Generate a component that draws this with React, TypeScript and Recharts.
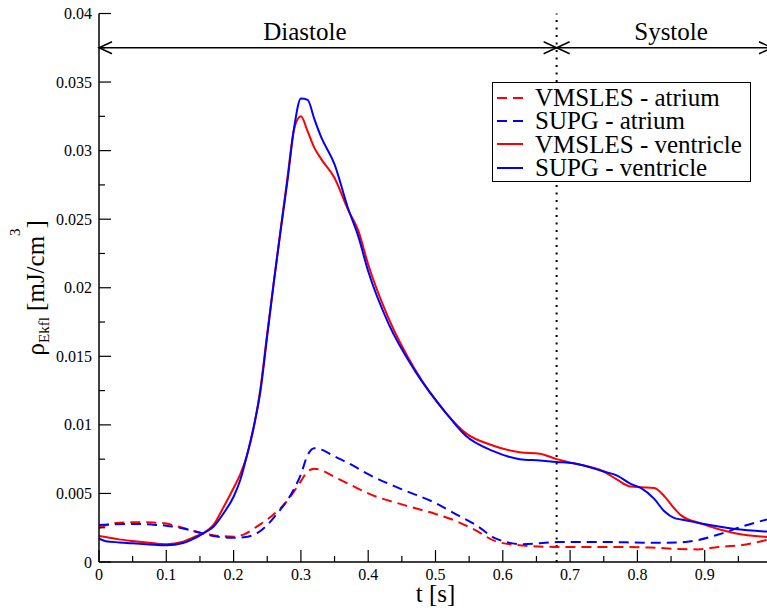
import { LineChart, Line, XAxis, YAxis, ReferenceLine, ReferenceDot, Legend } from 'recharts';

const FONT = '"Liberation Serif", "Times New Roman", Times, serif';
const RED = '#ff0000';
const BLUE = '#0000ff';
const INK = '#000000';

// axis ticks (major + minor, alternating)
const xTicks = [0, 0.05, 0.1, 0.15, 0.2, 0.25, 0.3, 0.35, 0.4, 0.45, 0.5, 0.55, 0.6, 0.65, 0.7, 0.75, 0.8, 0.85, 0.9, 0.95, 1];
const yTicks = [0, 0.0025, 0.005, 0.0075, 0.01, 0.0125, 0.015, 0.0175, 0.02, 0.0225, 0.025, 0.0275, 0.03, 0.0325, 0.035, 0.0375, 0.04];

// series names, in legend order
const seriesNames = ['VMSLES - atrium', 'SUPG - atrium', 'VMSLES - ventricle', 'SUPG - ventricle'];

// ventricle series
const ventricleT = [0, 0.01, 0.03, 0.05, 0.075, 0.1, 0.125, 0.14, 0.155, 0.17, 0.185, 0.2, 0.21, 0.22, 0.23, 0.24, 0.25, 0.26, 0.27, 0.28, 0.29, 0.3, 0.31, 0.32, 0.33, 0.35, 0.37, 0.385, 0.4, 0.43, 0.47, 0.515, 0.545, 0.585, 0.625, 0.655, 0.68, 0.705, 0.75, 0.77, 0.79, 0.805, 0.825, 0.84, 0.855, 0.865, 0.895, 0.945, 1.0];
const vmslesVentricle = [0.0019, 0.00182, 0.00165, 0.00153, 0.0014, 0.0013, 0.00148, 0.0018, 0.0021, 0.0027, 0.004, 0.0054, 0.0064, 0.0078, 0.0098, 0.0127, 0.0167, 0.0205, 0.0243, 0.028, 0.0316, 0.0325, 0.0314, 0.0302, 0.0294, 0.028, 0.0257, 0.0242, 0.0217, 0.0178, 0.014, 0.0109, 0.0094, 0.0085, 0.008, 0.0079, 0.0075, 0.0072, 0.0066, 0.006, 0.0055, 0.00545, 0.0054, 0.0048, 0.0039, 0.0034, 0.0028, 0.0021, 0.0018];
const supgVentricle = [0.0017, 0.00152, 0.00143, 0.00136, 0.00128, 0.00122, 0.00138, 0.00168, 0.0021, 0.00257, 0.00355, 0.00476, 0.006, 0.0078, 0.0099, 0.0125, 0.0165, 0.0205, 0.0242, 0.0278, 0.0317, 0.0338, 0.0337, 0.0323, 0.031, 0.029, 0.0258, 0.0238, 0.0212, 0.0174, 0.0139, 0.0109, 0.0092, 0.0081, 0.0075, 0.0074, 0.0073, 0.0072, 0.0066, 0.0063, 0.0057, 0.0054, 0.0046, 0.0037, 0.0032, 0.0031, 0.0028, 0.0024, 0.0022];

// atrium series
const atriumT = [0, 0.02, 0.05, 0.08, 0.1, 0.125, 0.15, 0.175, 0.2, 0.215, 0.235, 0.25, 0.265, 0.285, 0.3, 0.31, 0.32, 0.33, 0.35, 0.375, 0.4, 0.45, 0.5, 0.53, 0.56, 0.59, 0.63, 0.68, 0.75, 0.82, 0.86, 0.89, 0.92, 0.95, 1.0];
const vmslesAtrium = [0.0025, 0.0028, 0.0029, 0.00288, 0.0028, 0.00248, 0.00214, 0.00192, 0.00185, 0.002, 0.0026, 0.0031, 0.0037, 0.0048, 0.0059, 0.0066, 0.0068, 0.0067, 0.0062, 0.0056, 0.005, 0.0042, 0.0035, 0.003, 0.0023, 0.0015, 0.0012, 0.0011, 0.0011, 0.00105, 0.00095, 0.00092, 0.0011, 0.0012, 0.0017];
const supgAtrium = [0.0027, 0.00275, 0.00278, 0.00272, 0.00265, 0.00245, 0.00214, 0.00185, 0.00177, 0.0018, 0.0021, 0.0027, 0.00355, 0.0049, 0.0064, 0.0078, 0.0083, 0.0082, 0.0077, 0.0071, 0.0064, 0.0053, 0.0043, 0.0035, 0.0027, 0.0017, 0.0013, 0.00145, 0.00146, 0.0014, 0.00142, 0.0016, 0.002, 0.0025, 0.0032];

// diastole / systole annotation
const phaseSplit = 0.68;
const phaseArrowY = 0.0375;
const diastoleLabelT = 0.306;
const systoleLabelT = 0.85;

const zip = (ts: number[], vs: number[]) => ts.map((t, i) => ({ t, v: vs[i] }));

const fmt = (v: number) => String(Number(v.toFixed(4)));
const isMajorX = (v: number) => Math.round(v * 20) % 2 === 0;
const isMajorY = (v: number) => Math.round(v / 0.0025) % 2 === 0;

function BottomTick({ x, y, payload }: any) {
  const major = isMajorX(payload.value);
  return (
    <g>
      <line x1={x} y1={y} x2={x} y2={y - (major ? 12 : 6)} stroke={INK} strokeWidth={1.2} />
      {major && (
        <text x={x} y={y + 18} textAnchor="middle" fontFamily={FONT} fontSize={16} fill={INK}>
          {fmt(payload.value)}
        </text>
      )}
    </g>
  );
}

function TopTick({ x, y, payload }: any) {
  const major = isMajorX(payload.value);
  return <line x1={x} y1={y} x2={x} y2={y + (major ? 12 : 6)} stroke={INK} strokeWidth={1.2} />;
}

function LeftTick({ x, y, payload }: any) {
  const major = isMajorY(payload.value);
  return (
    <g>
      <line x1={x} y1={y} x2={x + (major ? 12 : 6)} y2={y} stroke={INK} strokeWidth={1.2} />
      {major && (
        <text x={x - 7} y={y + 5.5} textAnchor="end" fontFamily={FONT} fontSize={16} fill={INK}>
          {fmt(payload.value)}
        </text>
      )}
    </g>
  );
}

function RightTick({ x, y, payload }: any) {
  const major = isMajorY(payload.value);
  return <line x1={x} y1={y} x2={x - (major ? 12 : 6)} y2={y} stroke={INK} strokeWidth={1.2} />;
}

function YTitle({ viewBox }: any) {
  const cx = viewBox.x + 44;
  const cy = viewBox.y + viewBox.height / 2;
  return (
    <text transform={`rotate(-90 ${cx} ${cy})`} x={cx} y={cy} textAnchor="middle" fontFamily={FONT} fontSize={25} fill={INK}>
      ρ<tspan fontSize={15} dy={5}>Ekfl</tspan>
      <tspan dy={-5}> [mJ/cm</tspan>
      <tspan fontSize={15} dy={-24}>3</tspan>
      <tspan dy={24}>]</tspan>
    </text>
  );
}

function XTitle({ viewBox }: any) {
  return (
    <text x={viewBox.x + viewBox.width / 2} y={viewBox.y + 40} textAnchor="middle" fontFamily={FONT} fontSize={25} fill={INK}>
      t [s]
    </text>
  );
}

const headLeft = ({ cx, cy }: any) => (
  <path d={`M${cx + 13},${cy - 6} L${cx},${cy} L${cx + 13},${cy + 6}`} fill="none" stroke={INK} strokeWidth={1.5} />
);
const headRight = ({ cx, cy }: any) => (
  <path d={`M${cx - 13},${cy - 6} L${cx},${cy} L${cx - 13},${cy + 6}`} fill="none" stroke={INK} strokeWidth={1.5} />
);
const headBoth = (p: any) => (
  <g>
    {headLeft(p)}
    {headRight(p)}
  </g>
);
const phaseText = (label: string) => ({ cx, cy }: any) => (
  <text x={cx} y={cy - 8} textAnchor="middle" fontFamily={FONT} fontSize={25} fill={INK}>
    {label}
  </text>
);

function LegendBox({ payload }: any) {
  const items = [...(payload ?? [])].sort((a: any, b: any) => seriesNames.indexOf(a.value) - seriesNames.indexOf(b.value));
  return (
    <div
      style={{
        boxSizing: 'border-box',
        width: 259,
        height: 100,
        border: '1px solid #000',
        background: '#fff',
        padding: '3px 0 0 4px',
        fontFamily: FONT,
        fontSize: 25,
        lineHeight: '23.3px',
        color: INK,
      }}
    >
      {items.map((e: any) => (
        <div key={e.value} style={{ display: 'flex', alignItems: 'center', height: 23.3, whiteSpace: 'nowrap' }}>
          <svg width={26} height={4} style={{ flex: 'none' }}>
            <line x1={0} y1={2} x2={26} y2={2} stroke={e.color} strokeWidth={2} strokeDasharray={e.payload?.strokeDasharray} />
          </svg>
          <span style={{ marginLeft: 12 }}>{e.value}</span>
        </div>
      ))}
    </div>
  );
}

export default function App() {
  return (
    <div style={{ position: 'absolute', left: 0, top: 0, width: 767, height: 610, overflow: 'hidden', background: '#fff' }}>
      <LineChart width={790} height={610} margin={{ top: 13.5, right: 18, bottom: 18, left: 0 }}>
        <XAxis
          dataKey="t"
          type="number"
          domain={[0, 1]}
          ticks={xTicks}
          interval={0}
          height={30}
          tickSize={0}
          tickMargin={0}
          tick={<BottomTick />}
          axisLine={{ stroke: INK, strokeWidth: 1.5 }}
          label={{ content: <XTitle /> }}
        />
        <XAxis
          xAxisId="top"
          orientation="top"
          dataKey="t"
          type="number"
          domain={[0, 1]}
          ticks={xTicks}
          interval={0}
          height={0}
          tickSize={0}
          tickMargin={0}
          tick={<TopTick />}
          axisLine={{ stroke: INK, strokeWidth: 1.5 }}
        />
        <YAxis
          type="number"
          domain={[0, 0.04]}
          ticks={yTicks}
          interval={0}
          width={99}
          tickSize={0}
          tickMargin={0}
          tick={<LeftTick />}
          axisLine={{ stroke: INK, strokeWidth: 1.5 }}
          label={{ content: <YTitle /> }}
        />
        <YAxis
          yAxisId="right"
          orientation="right"
          type="number"
          domain={[0, 0.04]}
          ticks={yTicks}
          interval={0}
          width={0}
          tickSize={0}
          tickMargin={0}
          tick={<RightTick />}
          axisLine={{ stroke: INK, strokeWidth: 1.5 }}
        />

        <ReferenceLine x={phaseSplit} stroke={INK} strokeWidth={2} strokeDasharray="2 5.5" />
        <ReferenceLine y={phaseArrowY} stroke={INK} strokeWidth={1.5} />
        <ReferenceDot x={0} y={phaseArrowY} shape={headLeft} />
        <ReferenceDot x={phaseSplit} y={phaseArrowY} shape={headBoth} />
        <ReferenceDot x={1} y={phaseArrowY} shape={headRight} />
        <ReferenceDot x={diastoleLabelT} y={phaseArrowY} shape={phaseText('Diastole')} />
        <ReferenceDot x={systoleLabelT} y={phaseArrowY} shape={phaseText('Systole')} />

        <Line data={zip(atriumT, vmslesAtrium)} dataKey="v" name={seriesNames[0]} type="monotone" stroke={RED} strokeWidth={2} strokeDasharray="10 6" dot={false} activeDot={false} isAnimationActive={false} />
        <Line data={zip(atriumT, supgAtrium)} dataKey="v" name={seriesNames[1]} type="monotone" stroke={BLUE} strokeWidth={2} strokeDasharray="10 6" dot={false} activeDot={false} isAnimationActive={false} />
        <Line data={zip(ventricleT, vmslesVentricle)} dataKey="v" name={seriesNames[2]} type="monotone" stroke={RED} strokeWidth={2} dot={false} activeDot={false} isAnimationActive={false} />
        <Line data={zip(ventricleT, supgVentricle)} dataKey="v" name={seriesNames[3]} type="monotone" stroke={BLUE} strokeWidth={2} dot={false} activeDot={false} isAnimationActive={false} />

        <Legend
          layout="vertical"
          align="center"
          verticalAlign="middle"
          content={<LegendBox />}
          wrapperStyle={{ position: 'absolute', left: 492, top: 82, width: 259, height: 100 }}
        />
      </LineChart>
    </div>
  );
}
